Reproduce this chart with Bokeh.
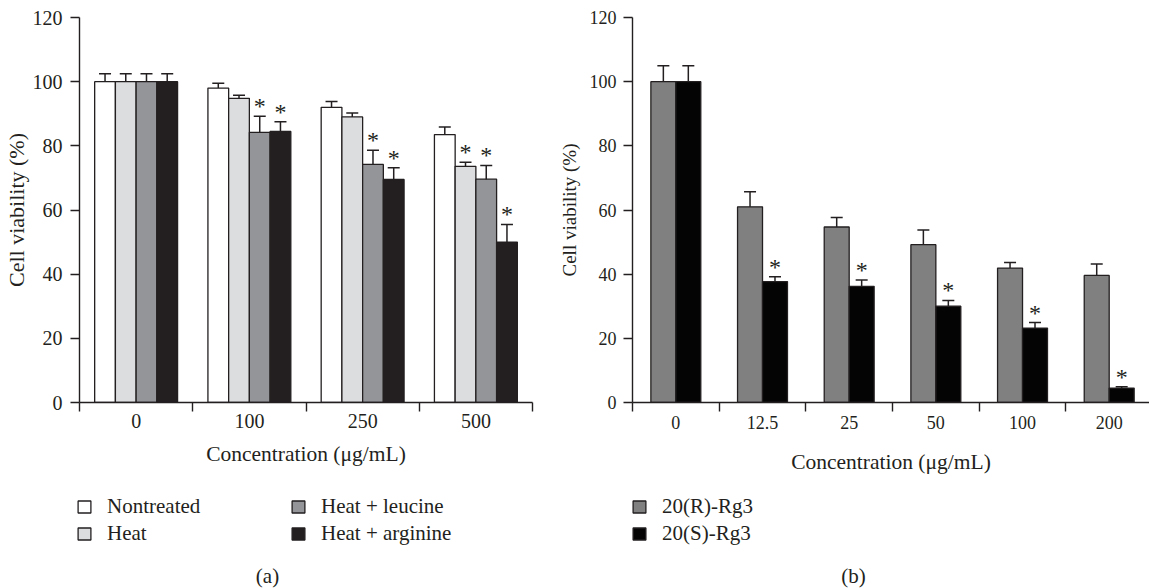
from bokeh.plotting import figure
from bokeh.models import (ColumnDataSource, FixedTicker, Whisker, TeeHead,
                          Legend, LegendItem, Label)
from bokeh.layouts import row, column
from bokeh.embed import file_html
from bokeh.resources import INLINE
from bokeh.core.properties import value

# ---------------- data (a) ----------------
groups_a = ["0", "100", "250", "500"]
nontreated = [100, 98.0, 92.0, 83.5]
nontreated_err = [2.5, 1.5, 1.8, 2.4]
heat = [100, 94.8, 89.0, 73.6]
heat_err = [2.5, 1.0, 1.2, 1.3]
leucine = [100, 84.2, 74.2, 69.6]
leucine_err = [2.5, 5.0, 4.4, 4.3]
arginine = [100, 84.5, 69.5, 50.0]
arginine_err = [2.5, 3.0, 3.7, 5.5]
sig_nontreated = ["", "", "", ""]
sig_heat = ["", "", "", "*"]
sig_leucine = ["", "*", "*", "*"]
sig_arginine = ["", "*", "*", "*"]
labels_a = ["Nontreated", "Heat", "Heat + leucine", "Heat + arginine"]
colors_a = ["#ffffff", "#dcdddf", "#939598", "#231f20"]

# ---------------- data (b) ----------------
groups_b = ["0", "12.5", "25", "50", "100", "200"]
rg3_r = [100, 61.0, 54.7, 49.2, 41.9, 39.6]
rg3_r_err = [5.0, 4.7, 3.0, 4.6, 1.7, 3.6]
rg3_s = [100, 37.7, 36.2, 30.0, 23.2, 4.5]
rg3_s_err = [5.0, 1.5, 2.0, 1.8, 1.7, 0.4]
sig_r = ["", "", "", "", "", ""]
sig_s = ["", "*", "*", "*", "*", "*"]
labels_b = ["20(R)-Rg3", "20(S)-Rg3"]
colors_b = ["#808080", "#040404"]

FONT = "Liberation Serif"
INK = "#231f20"
y_ticks = [0, 20, 40, 60, 80, 100, 120]


def base_fig(xend, fw, border_left, border_right):
    p = figure(frame_width=fw, frame_height=385, x_range=(-0.5, xend),
               y_range=(0, 120), output_backend="svg", toolbar_location=None,
               title=None,
               min_border_left=border_left, min_border_right=border_right,
               min_border_top=17, min_border_bottom=83)
    p.grid.visible = False
    p.outline_line_color = None
    p.background_fill_color = "white"
    return p


def style_axes(p, groups, tick_fs, ylabel_fs, xlab_standoff, ylab_standoff,
               ytick_standoff, xtick_standoff):
    n = len(groups)
    p.xaxis.ticker = FixedTicker(ticks=list(range(n)),
                                 minor_ticks=[i - 0.5 for i in range(n + 1)])
    p.xaxis.major_label_overrides = {i: g for i, g in enumerate(groups)}
    p.xaxis.major_tick_out = 0
    p.xaxis.major_tick_in = 0
    p.xaxis.minor_tick_out = 9
    p.xaxis.minor_tick_in = 0
    p.xaxis.major_label_standoff = xtick_standoff
    p.xaxis.axis_label = "Concentration (μg/mL)"
    p.xaxis.axis_label_standoff = xlab_standoff
    p.xaxis.axis_label_text_font_size = "21.5px"
    p.yaxis.ticker = FixedTicker(ticks=y_ticks, minor_ticks=[])
    p.yaxis.major_tick_out = 9
    p.yaxis.major_tick_in = 0
    p.yaxis.minor_tick_out = 0
    p.yaxis.minor_tick_in = 0
    p.yaxis.major_label_standoff = ytick_standoff
    p.yaxis.axis_label = "Cell viability (%)"
    p.yaxis.axis_label_standoff = ylab_standoff
    p.yaxis.axis_label_text_font_size = ylabel_fs
    for ax in (p.xaxis, p.yaxis):
        ax.axis_line_color = INK
        ax.axis_line_width = 1.4
        ax.major_tick_line_color = INK
        ax.minor_tick_line_color = INK
        ax.major_tick_line_width = 1.4
        ax.minor_tick_line_width = 1.4
        ax.major_label_text_font = FONT
        ax.major_label_text_font_size = tick_fs
        ax.major_label_text_color = INK
        ax.axis_label_text_font = FONT
        ax.axis_label_text_font_style = "normal"
        ax.axis_label_text_color = INK


def add_series(p, idx, vals, errs, sigs, offset, width, fill):
    x = [i + offset for i in idx]
    src = ColumnDataSource(dict(
        x=x, top=vals,
        hi=[v + e for v, e in zip(vals, errs)],
        lo=[v - e for v, e in zip(vals, errs)],
        sig=sigs))
    p.vbar(x="x", top="top", width=width, bottom=0, source=src,
           fill_color=fill, line_color=INK, line_width=1.3)
    w = Whisker(base="x", upper="hi", lower="lo", source=src,
                line_color=INK, line_width=1.5,
                upper_head=TeeHead(size=12, line_color=INK, line_width=1.5),
                lower_head=TeeHead(size=12, line_color=INK, line_width=1.5))
    p.add_layout(w)
    p.text(x="x", y="hi", text="sig", source=src, text_align="center",
           text_baseline="alphabetic", y_offset=-10,
           text_font=value(FONT), text_font_size="24px", text_color=INK)


def legend_fig(width, height, labels, colors, ncols, label_width,
               leg_x, leg_y, cap, cap_x, cap_y):
    q = figure(width=width, height=height, x_range=(0, width),
               y_range=(0, height), output_backend="svg",
               toolbar_location=None, title=None, min_border=0)
    q.axis.visible = False
    q.grid.visible = False
    q.outline_line_color = None
    items = []
    for lab, col in zip(labels, colors):
        # zero-size proxy glyph: only its style is used by the legend swatch
        r = q.vbar(x=[0], top=[0], bottom=[0], width=0, fill_color=col,
                   line_color=INK, line_width=1.3)
        items.append(LegendItem(label=lab, renderers=[r]))
    leg = Legend(items=items, orientation="vertical", ncols=ncols,
                 location=(leg_x, leg_y), margin=0, padding=0,
                 border_line_color=None, background_fill_alpha=0,
                 glyph_width=16, glyph_height=15, label_standoff=15,
                 label_height=24, label_width=label_width, spacing=2,
                 label_text_font=FONT, label_text_font_size="21px",
                 label_text_color=INK, label_text_baseline="middle")
    q.add_layout(leg)
    q.add_layout(Label(x=cap_x, y=cap_y, text=cap, text_align="center",
                       text_baseline="middle", text_font=FONT,
                       text_font_size="21px", text_color=INK))
    return q


# ---------------- figure (a) ----------------
pa = base_fig(3.5, 453, 79, 21)
style_axes(pa, groups_a, "20px", "22px", 11, 1, 8, 2)
idx_a = list(range(len(groups_a)))
bw_a = 0.183
series_a = [(nontreated, nontreated_err, sig_nontreated),
            (heat, heat_err, sig_heat),
            (leucine, leucine_err, sig_leucine),
            (arginine, arginine_err, sig_arginine)]
for k, ((v, e, s), c) in enumerate(zip(series_a, colors_a)):
    add_series(pa, idx_a, v, e, s, (k - 1.5) * bw_a, bw_a, c)

# ---------------- figure (b) ----------------
pb = base_fig(5.465, 517, 79, 0)
style_axes(pb, groups_b, "18px", "19px", 18, 7, 7, 4)
idx_b = list(range(len(groups_b)))
bw_b = 0.288
series_b = [(rg3_r, rg3_r_err, sig_r), (rg3_s, rg3_s_err, sig_s)]
for k, ((v, e, s), c) in enumerate(zip(series_b, colors_b)):
    add_series(pb, idx_b, v, e, s, (k - 0.5) * bw_b, bw_b, c)

# ---------------- legends & captions ----------------
la = legend_fig(553, 103, labels_a, colors_a, 2, 181, 76, 42, "(a)", 267, 13)
lb = legend_fig(596, 103, labels_b, colors_b, 1, 100, 78, 42, "(b)", 300, 13)

layout = column(row(pa, pb), row(la, lb))
open("out.html", "w").write(file_html(layout, INLINE))
